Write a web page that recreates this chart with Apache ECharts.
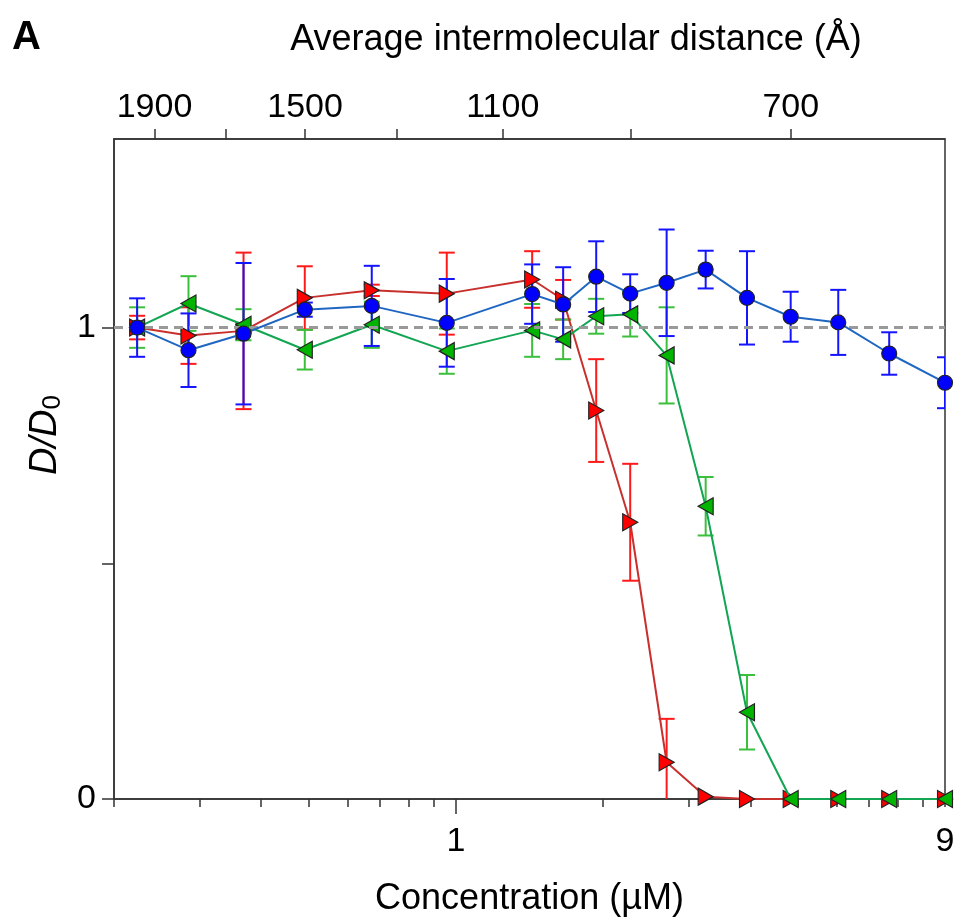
<!DOCTYPE html>
<html>
<head>
<meta charset="utf-8">
<script src="https://cdn.jsdelivr.net/npm/echarts@6/dist/echarts.min.js"></script>
<style>
html, body { margin: 0; padding: 0; background: #fff; }
#chart { width: 959px; height: 922px; }
</style>
</head>
<body>
<div id="chart"></div>
<script>
// concentration (uM) of each measurement
var conc = [0.223, 0.284, 0.368, 0.491, 0.673, 0.958, 1.432, 1.657, 1.936, 2.272, 2.697, 3.241, 3.937, 4.836, 6.05, 7.69, 10];

// D/D0 and error, blue circles
var blueMean = [1.0, 0.952, 0.987, 1.038, 1.046, 1.010, 1.071, 1.049, 1.108, 1.072, 1.095, 1.123, 1.063, 1.023, 1.011, 0.945, 0.883];
var blueErr = [0.062, 0.078, 0.15, 0.015, 0.085, 0.093, 0.063, 0.079, 0.075, 0.041, 0.113, 0.04, 0.099, 0.053, 0.069, 0.045, 0.054];

// red right triangles
var redMean = [1.0, 0.983, 0.993, 1.063, 1.079, 1.072, 1.102, 1.059, 0.824, 0.587, 0.078, 0.005, 0.0, 0, 0, 0, 0];
var redErr = [0.025, 0.06, 0.166, 0.067, 0.012, 0.087, 0.06, 0.042, 0.109, 0.124, 0.092, 0, 0, 0, 0, 0, 0];

// green left triangles
var greenMean = [1.0, 1.051, 1.006, 0.953, 1.006, 0.950, 0.994, 0.975, 1.024, 1.028, 0.941, 0.621, 0.184, 0, 0, 0, 0];
var greenErr = [0.043, 0.058, 0.033, 0.042, 0.049, 0.048, 0.056, 0.042, 0.037, 0.047, 0.102, 0.062, 0.079, 0, 0, 0, 0];

// axes
var bottomMinorTicks = [0.2, 0.3, 0.4, 0.5, 0.6, 0.7, 0.8, 0.9, 2, 3, 4, 5, 6, 7, 8, 9, 10];
var bottomMajorTicks = [1];
var bottomLabelValues = [1, 10];
var bottomLabelText = ['1', '9'];
var distanceTicks = [1900, 1700, 1500, 1300, 1100, 900, 700];
var distanceLabels = [1900, 1500, 1100, 700];
var yTicks = [0, 0.5, 1];
var yLabels = [0, 1];

// mean spacing in angstrom at 1 uM
var DIST_1UM = 1184;
function distToConc(d) { return Math.pow(DIST_1UM / d, 3); }
function concToDist(c) { return DIST_1UM / Math.cbrt(c); }

var FONT = 'Liberation Sans, Arial, sans-serif';
var AXIS_COLOR = '#333';

function errorBars(mean, err, color) {
    var data = [];
    conc.forEach(function (c, i) {
        if (err[i] > 0) data.push([c, mean[i] - err[i], mean[i] + err[i]]);
    });
    return {
        type: 'custom',
        silent: true,
        clip: true,
        z: 1,
        encode: { x: 0, y: [1, 2] },
        data: data,
        renderItem: function (params, api) {
            var lo = api.coord([api.value(0), api.value(1)]);
            var hi = api.coord([api.value(0), api.value(2)]);
            var w = 8;
            var st = { stroke: color, lineWidth: 2 };
            return {
                type: 'group',
                children: [
                    { type: 'line', shape: { x1: lo[0], y1: lo[1], x2: hi[0], y2: hi[1] }, style: st },
                    { type: 'line', shape: { x1: lo[0] - w, y1: lo[1], x2: lo[0] + w, y2: lo[1] }, style: st },
                    { type: 'line', shape: { x1: hi[0] - w, y1: hi[1], x2: hi[0] + w, y2: hi[1] }, style: st }
                ]
            };
        }
    };
}

function lineSeries(mean, symbol, size, fill, lineColor, z) {
    return {
        type: 'line',
        z: z,
        symbol: symbol,
        symbolSize: size,
        showAllSymbol: true,
        data: conc.map(function (c, i) { return [c, mean[i]]; }),
        itemStyle: { color: fill, borderColor: '#222', borderWidth: 1.2 },
        lineStyle: { color: lineColor, width: 2 }
    };
}

var chart = echarts.init(document.getElementById('chart'));

var redLine = lineSeries(redMean, 'path://M0,0L10,5L0,10Z', [15, 17], '#ff0000', '#c8302e', 3);
redLine.markLine = {
    silent: true,
    symbol: 'none',
    label: { show: false },
    lineStyle: { color: '#999', type: [9, 6], width: 3 },
    data: [{ yAxis: 1 }]
};

var option = {
    animation: false,
    grid: {
        left: 114, right: 14, top: 139, bottom: 123,
        show: true, borderColor: AXIS_COLOR, borderWidth: 1.5
    },
    graphic: [
        {
            type: 'text', left: 12, top: 18,
            style: { text: 'A', font: 'bold 40px ' + FONT, fill: '#000' }
        },
        {
            type: 'text', x: 576, y: 40,
            style: {
                text: 'Average intermolecular distance (Å)',
                font: '36px ' + FONT, fill: '#000', align: 'center', verticalAlign: 'middle'
            }
        },
        {
            type: 'text', x: 45, y: 435, rotation: Math.PI / 2,
            style: {
                text: '{i|D/D}{s|0}',
                align: 'center', verticalAlign: 'middle', fill: '#000',
                rich: {
                    i: { fontFamily: FONT, fontStyle: 'italic', fontSize: 38, fill: '#000' },
                    s: { fontFamily: FONT, fontSize: 26, padding: [16, 0, 0, 0], fill: '#000' }
                }
            }
        }
    ],
    xAxis: [
        {
            type: 'log', position: 'bottom', min: 0.2, max: 10,
            axisLine: { lineStyle: { color: AXIS_COLOR, width: 1.5 } },
            axisTick: { customValues: bottomMinorTicks, length: 8, lineStyle: { color: AXIS_COLOR, width: 1.5 } },
            axisLabel: {
                customValues: bottomLabelValues,
                formatter: function (v) {
                    var i = bottomLabelValues.findIndex(function (b) { return Math.abs(b - v) < 1e-6; });
                    return i >= 0 ? bottomLabelText[i] : '';
                },
                margin: 26, fontSize: 34, fontFamily: FONT, color: '#000'
            },
            splitLine: { show: false },
            name: 'Concentration (µM)', nameLocation: 'middle', nameGap: 82,
            nameTextStyle: { fontSize: 36, fontFamily: FONT, color: '#000' }
        },
        {
            type: 'log', position: 'bottom', min: 0.2, max: 10,
            axisLine: { show: false },
            axisTick: { customValues: bottomMajorTicks, length: 15, lineStyle: { color: AXIS_COLOR, width: 1.5 } },
            axisLabel: { show: false },
            splitLine: { show: false }
        },
        {
            type: 'log', position: 'top', min: 0.2, max: 10,
            axisLine: { lineStyle: { color: AXIS_COLOR, width: 1.5 } },
            axisTick: { customValues: distanceTicks.map(distToConc), length: 10, lineStyle: { color: AXIS_COLOR, width: 1.5 } },
            axisLabel: {
                customValues: distanceLabels.map(distToConc),
                formatter: function (v) { return String(Math.round(concToDist(v) / 100) * 100); },
                margin: 14, fontSize: 34, fontFamily: FONT, color: '#000'
            },
            splitLine: { show: false }
        }
    ],
    yAxis: {
        type: 'value', min: 0, max: 1.4,
        axisLine: { lineStyle: { color: AXIS_COLOR, width: 1.5 } },
        axisTick: { customValues: yTicks, length: 12, lineStyle: { color: AXIS_COLOR, width: 1.5 } },
        axisLabel: { customValues: yLabels, margin: 18, fontSize: 34, fontFamily: FONT, color: '#000' },
        splitLine: { show: false }
    },
    series: [
        errorBars(redMean, redErr, '#ff1a1a'),
        errorBars(greenMean, greenErr, '#3cbf3c'),
        errorBars(blueMean, blueErr, '#1414ff'),
        redLine,
        lineSeries(greenMean, 'path://M10,0L0,5L10,10Z', [15, 17], '#00b400', '#12a552', 4),
        lineSeries(blueMean, 'circle', 15, '#0000ff', '#1f66c2', 5)
    ]
};

chart.setOption(option);
</script>
</body>
</html>
